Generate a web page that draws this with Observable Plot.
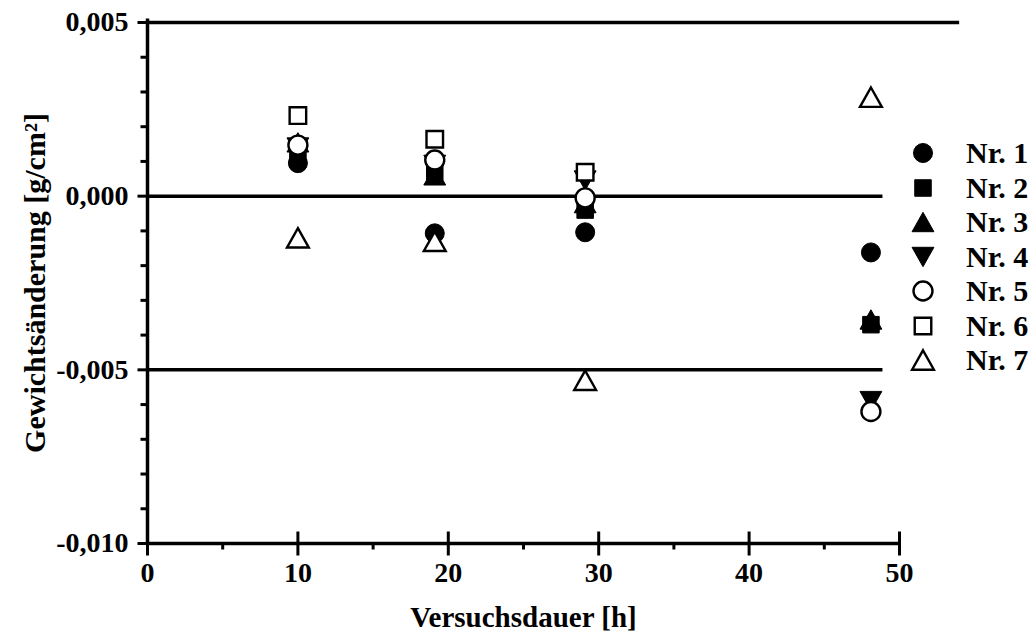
<!DOCTYPE html>
<html>
<head>
<meta charset="utf-8">
<script src="https://cdn.jsdelivr.net/npm/d3@7"></script>
<script src="https://cdn.jsdelivr.net/npm/@observablehq/plot@0.6"></script>
<style>
  html, body { margin: 0; padding: 0; background: #fff; }
  #chart { position: relative; width: 1035px; height: 641px; overflow: hidden;
           font-family: "Liberation Serif", "Times New Roman", serif; font-weight: bold; }
  #legend { position: absolute; left: 905px; top: 136px; }
  .row { display: flex; align-items: center; height: 34.5px; font-size: 30px; }
  .row svg { width: 36px; height: 34px; display: block; overflow: visible; }
  .row span { margin-left: 25px; line-height: 1; }
</style>
</head>
<body>
<div id="chart"><div id="legend"></div></div>
<script>
// Test durations (h) and mass change per area (g/cm²) for the seven samples
const times = [10, 19.1, 29.1, 48.1];
const nr1 = [0.00095, -0.00107, -0.00104, -0.00162];
const nr2 = [0.0012, 0.0007, -0.0004, -0.0037];
const nr3 = [0.00155, 0.0006, -0.0002, -0.00355];
const nr4 = [0.0014, 0.0009, 0.00045, -0.0059];
const nr5 = [0.00147, 0.00104, -0.00005, -0.0062];
const nr6 = [0.00232, 0.00164, 0.00069, null];
const nr7 = [-0.0012, -0.0013, -0.0053, 0.00285];

const seriesNames = ["Nr. 1", "Nr. 2", "Nr. 3", "Nr. 4", "Nr. 5", "Nr. 6", "Nr. 7"];
const seriesValues = [nr1, nr2, nr3, nr4, nr5, nr6, nr7];

// Axis ticks
const xMajor = [0, 10, 20, 30, 40, 50];
const xMinor = [5, 15, 25, 35, 45];
const yMajor = [0.005, 0, -0.005, -0.01];
const yMinor = [0.004, 0.003, 0.002, 0.001, -0.001, -0.002, -0.003, -0.004,
                -0.006, -0.007, -0.008, -0.009];

// Horizontal reference lines and where they end on the time axis
const refLevels = [0.005, 0, -0.005];
const refEnds = [54, 48.9, 48.9];

const xDomain = [0, 50];
const yDomain = [-0.01, 0.005];

const xTitle = "Versuchsdauer [h]";
const yTitle = "Gewichtsänderung [g/cm²]";

// Marker shapes (size is the area Plot derives from r)
const rOf = s => Math.sqrt(s / Math.PI);
const shapes = {
  circle: { draw(c, s) { const r = rOf(s); c.moveTo(r, 0); c.arc(0, 0, r, 0, 2 * Math.PI); c.closePath(); } },
  square: { draw(c, s) { const h = rOf(s) * 0.87; c.rect(-h, -h, 2 * h, 2 * h); } },
  triUp: { draw(c, s) { const r = rOf(s), w = r * 1.15, h = r * 1.02;
    c.moveTo(0, -h); c.lineTo(w, h); c.lineTo(-w, h); c.closePath(); } },
  triDown: { draw(c, s) { const r = rOf(s), w = r * 1.15, h = r * 1.02;
    c.moveTo(0, h); c.lineTo(w, -h); c.lineTo(-w, -h); c.closePath(); } }
};
const seriesShape = ["circle", "square", "triUp", "triDown", "circle", "square", "triUp"];
const seriesFilled = [true, true, true, true, false, false, false];

// Tick shapes in pixels
const tickBoth = { draw(c) { c.moveTo(0, -12); c.lineTo(0, 12); } };
const tickDown = { draw(c) { c.moveTo(0, 0); c.lineTo(0, 6); } };
const tickLeft = { draw(c) { c.moveTo(-10, 0); c.lineTo(0, 0); } };
const tickLeftMinor = { draw(c) { c.moveTo(-7, 0); c.lineTo(0, 0); } };

const de = d3.formatLocale({ decimal: ",", thousands: ".", grouping: [3], currency: ["", " €"], minus: "-" });
const yFmt = de.format(".3f");

const R = 9.5;
const lineW = 3.5;

const seriesMarks = seriesValues.map((vals, i) =>
  Plot.dot(times, {
    x: times,
    y: vals,
    symbol: shapes[seriesShape[i]],
    r: R,
    fill: seriesFilled[i] ? "black" : "white",
    stroke: "black",
    strokeWidth: seriesFilled[i] ? 1 : 2.4
  })
);

const chart = Plot.plot({
  width: 1035,
  height: 641,
  marginLeft: 147,
  marginRight: 136,
  marginTop: 22,
  marginBottom: 98,
  x: { domain: xDomain },
  y: { domain: yDomain },
  style: { fontFamily: '"Liberation Serif", "Times New Roman", serif', fontWeight: "bold", fontSize: "28px", background: "white", overflow: "visible" },
  marks: [
    Plot.ruleY(refLevels, { y: d => d, x1: () => 0, x2: (d, i) => refEnds[i], stroke: "black", strokeWidth: lineW }),
    Plot.ruleX([0], { x: d => d, y1: () => yDomain[0], y2: () => yDomain[1] + 0.0001, stroke: "black", strokeWidth: lineW }),
    Plot.ruleY([yDomain[0]], { y: d => d, x1: () => xDomain[0], x2: () => xDomain[1], stroke: "black", strokeWidth: lineW }),
    Plot.dot(xMajor, { x: d => d, y: () => yDomain[0], symbol: tickBoth, r: 1, fill: "none", stroke: "black", strokeWidth: 3 }),
    Plot.dot(xMinor, { x: d => d, y: () => yDomain[0], symbol: tickDown, r: 1, fill: "none", stroke: "black", strokeWidth: 3 }),
    Plot.dot(yMajor, { x: () => 0, y: d => d, symbol: tickLeft, r: 1, fill: "none", stroke: "black", strokeWidth: 3 }),
    Plot.dot(yMinor, { x: () => 0, y: d => d, symbol: tickLeftMinor, r: 1, fill: "none", stroke: "black", strokeWidth: 3 }),
    Plot.axisX({ ticks: xMajor, tickSize: 0, tickPadding: 19, tickFormat: d => String(d), label: null }),
    Plot.axisY({ ticks: yMajor, tickSize: 0, tickPadding: 19, tickFormat: yFmt, label: null }),
    Plot.text([xTitle], { frameAnchor: "bottom", dy: 74, textAnchor: "middle", lineAnchor: "middle", fontSize: 29, fontWeight: "bold" }),
    Plot.text([yTitle], { frameAnchor: "left", dx: -112, rotate: -90, textAnchor: "middle", lineAnchor: "middle", fontSize: 30, fontWeight: "bold" }),
    ...seriesMarks
  ]
});

document.getElementById("chart").prepend(chart);

// Legend: one row per sample with its marker
const legend = d3.select("#legend");
seriesNames.forEach((name, i) => {
  const row = legend.append("div").attr("class", "row");
  const p = d3.path();
  shapes[seriesShape[i]].draw(p, Math.PI * R * R);
  row.append("svg")
    .append("path")
    .attr("transform", "translate(18,17)")
    .attr("d", p.toString())
    .attr("fill", seriesFilled[i] ? "black" : "white")
    .attr("stroke", "black")
    .attr("stroke-width", seriesFilled[i] ? 1 : 2.4);
  row.append("span").text(name);
});
</script>
</body>
</html>
